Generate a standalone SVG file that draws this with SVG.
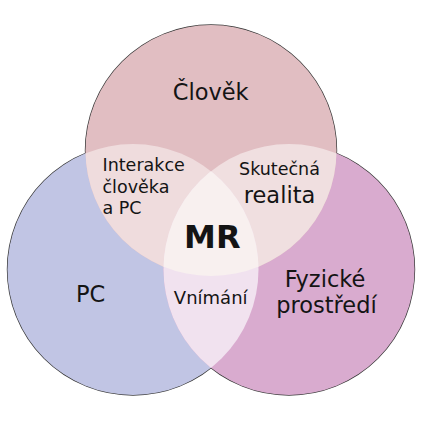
<svg xmlns="http://www.w3.org/2000/svg" width="423" height="423" viewBox="0 0 423 423">
<style>
text{font-family:"DejaVu Sans","Liberation Sans",sans-serif;fill:#141414}
.big{font-size:22.5px}
.small{font-size:17.5px}
.mid{text-anchor:middle}
.outline{fill:none;stroke:#3a3a3a;stroke-width:1.4}
</style>
<defs>
<clipPath id="cTop"><circle cx="211" cy="150.5" r="125.5"/></clipPath>
<clipPath id="cLeft"><circle cx="133" cy="269.5" r="125.5"/></clipPath>
<clipPath id="cRight"><circle cx="289" cy="269.5" r="125.5"/></clipPath>
</defs>
<rect width="423" height="423" fill="#ffffff"/>
<g id="outlines">
<circle class="outline" cx="211" cy="150.5" r="125.5"/>
<circle class="outline" cx="133" cy="269.5" r="125.5"/>
<circle class="outline" cx="289" cy="269.5" r="125.5"/>
</g>
<g id="pc">
<circle cx="133" cy="269.5" r="125.5" fill="#c1c5e4"/>
</g>
<g id="fyzicke">
<circle cx="289" cy="269.5" r="125.5" fill="#d9abcf"/>
</g>
<g id="clovek">
<circle cx="211" cy="150.5" r="125.5" fill="#e1bec2"/>
</g>
<g id="interakce-region" clip-path="url(#cLeft)">
<circle cx="211" cy="150.5" r="125.5" fill="#efdcdd"/>
</g>
<g id="realita-region" clip-path="url(#cRight)">
<circle cx="211" cy="150.5" r="125.5" fill="#f0dfe0"/>
</g>
<g id="vnimani-region" clip-path="url(#cRight)">
<circle cx="133" cy="269.5" r="125.5" fill="#f1e2ef"/>
</g>
<g id="mr-region" clip-path="url(#cRight)">
<g clip-path="url(#cLeft)">
<circle cx="211" cy="150.5" r="125.5" fill="#f8f0ef"/>
</g>
</g>
<g id="labels">
<g id="label-clovek"><text class="big mid" x="210.7" y="100">Člověk</text></g>
<g id="label-pc"><text class="big mid" x="90.7" y="302">PC</text></g>
<g id="label-fyzicke"><text class="big mid" x="325" y="286.7">Fyzické</text><text class="big mid" x="326.5" y="313.3">prostředí</text></g>
<g id="label-interakce"><text class="small" x="102.5" y="171">Interakce</text><text class="small" x="102.5" y="192.5">člověka</text><text class="small" x="102.5" y="213.5">a PC</text></g>
<g id="label-realita"><text class="small mid" x="279.5" y="175">Skutečná</text><text class="big mid" x="279.5" y="202.5">realita</text></g>
<g id="label-mr"><text class="mid" x="212.3" y="248" style="font-size:32px;font-weight:bold">MR</text></g>
<g id="label-vnimani"><text class="mid" x="210.7" y="304" style="font-size:18px">Vnímání</text></g>
</g>
<g id="connectors"/>
</svg>
